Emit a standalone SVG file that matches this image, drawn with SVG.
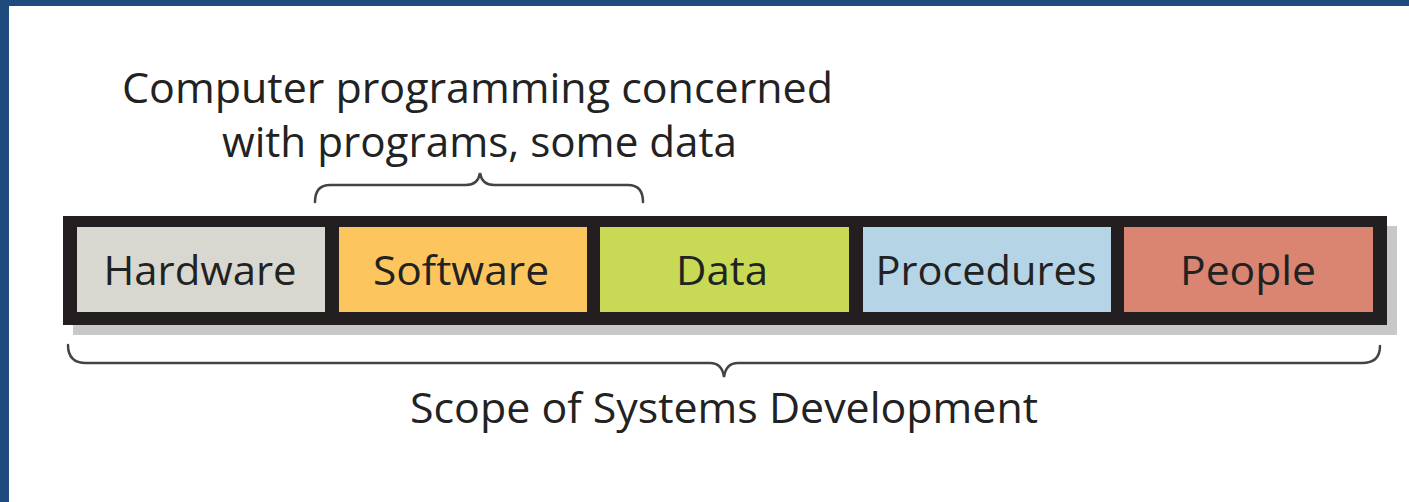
<svg xmlns="http://www.w3.org/2000/svg" width="1409" height="502" viewBox="0 0 1409 502">
<style>
.lbl{font-family:"Open Sans","Noto Sans",sans-serif;font-size:40px;fill:#222;text-anchor:middle}
.cap{font-family:"Open Sans","Noto Sans",sans-serif;font-size:42px;fill:#222}
.brace{fill:none;stroke:#444;stroke-width:2.5;stroke-linecap:round}
</style>
<rect width="1409" height="502" fill="#fff"/>
<rect x="0" y="0" width="1409" height="6" fill="#1f4a7e"/>
<rect x="0" y="0" width="9" height="502" fill="#1f4a7e"/>
<g id="bar">
<rect x="73" y="226" width="1324" height="109" fill="#c8c8c8"/>
<rect x="63" y="216" width="1324" height="109" fill="#231f20"/>
</g>
<g id="hardware"><rect x="77" y="227" width="248" height="85" fill="#d9d8d0"/><text class="lbl" x="200" y="285" textLength="193" lengthAdjust="spacingAndGlyphs">Hardware</text></g>
<g id="software"><rect x="339" y="227" width="248" height="85" fill="#fdc55e"/><text class="lbl" x="461" y="285" textLength="176" lengthAdjust="spacingAndGlyphs">Software</text></g>
<g id="data"><rect x="600" y="227" width="249" height="85" fill="#c8da55"/><text class="lbl" x="722" y="285" textLength="92" lengthAdjust="spacingAndGlyphs">Data</text></g>
<g id="procedures"><rect x="863" y="227" width="248" height="85" fill="#b5d5e7"/><text class="lbl" x="986" y="285" textLength="221" lengthAdjust="spacingAndGlyphs">Procedures</text></g>
<g id="people"><rect x="1124" y="227" width="249" height="85" fill="#d98571"/><text class="lbl" x="1248" y="285" textLength="136" lengthAdjust="spacingAndGlyphs">People</text></g>
<g id="connectors">
<path class="brace" d="M315,202 Q315,185 330,185 L466,185 Q478,185 480,173 Q482,185 494,185 L628,185 Q643,185 643,202"/>
<path class="brace" d="M68,345 Q68,363 86,363 L710,363 Q722,363 724,377 Q726,363 738,363 L1362,363 Q1380,363 1380,346"/>
</g>
<g id="top-label">
<text class="cap" x="122" y="103" textLength="711" lengthAdjust="spacingAndGlyphs">Computer programming concerned</text>
<text class="cap" x="222" y="157" textLength="515" lengthAdjust="spacingAndGlyphs">with programs, some data</text>
</g>
<g id="bottom-label">
<text class="cap" x="410" y="423" textLength="628" lengthAdjust="spacingAndGlyphs">Scope of Systems Development</text>
</g>
</svg>
